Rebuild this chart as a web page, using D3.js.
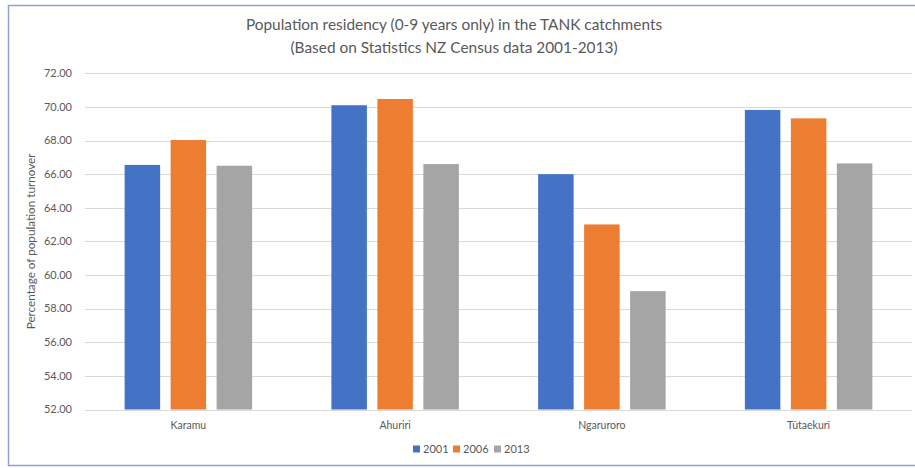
<!DOCTYPE html>
<html>
<head>
<meta charset="utf-8">
<script src="https://cdn.jsdelivr.net/npm/d3@7"></script>
<style>
  body { margin: 0; background: #fff; }
  text { font-family: Lato, "Open Sans", sans-serif; fill: #595959; }
</style>
</head>
<body>
<svg></svg>
<script>
var catchments = ["Karamu", "Ahuriri", "Ngaruroro", "Tūtaekurī"];
var years = ["2001", "2006", "2013"];
var v2001 = [66.55, 70.10, 66.00, 69.82];
var v2006 = [68.03, 70.47, 63.01, 69.32];
var v2013 = [66.50, 66.60, 59.04, 66.64];
var yTicks = [52, 54, 56, 58, 60, 62, 64, 66, 68, 70, 72];
var colors = ["#4472C4", "#ED7D31", "#A5A5A5"];

var series = [v2001, v2006, v2013];
var rows = catchments.map(function(c, i) {
  return { name: c, vals: years.map(function(yr, j) { return { year: yr, v: series[j][i] }; }) };
});

var W = 915, H = 468;
var plotL = 85, plotR = 912, plotT = 73.3, plotB = 409.5;

var svg = d3.select("svg").attr("width", W).attr("height", H);

// chart frame
svg.append("rect")
  .attr("x", 8.5).attr("y", 5.5)
  .attr("width", 920).attr("height", 460)
  .attr("fill", "none").attr("stroke", "#8EA0CF").attr("stroke-width", 1.5);

var x = d3.scaleBand().domain(catchments).range([plotL, plotR]);
var xInner = d3.scaleBand().domain(years).range([0, 127.5]).paddingInner(0.228);
var y = d3.scaleLinear().domain([52, 72]).range([plotB, plotT]);

// gridlines
svg.append("g").selectAll("line")
  .data(yTicks)
  .join("line")
  .attr("x1", plotL).attr("x2", plotR)
  .attr("y1", function(d) { return Math.round(y(d)) + 0.5; })
  .attr("y2", function(d) { return Math.round(y(d)) + 0.5; })
  .attr("stroke", "#d9d9d9").attr("stroke-width", 1);

// y tick labels
svg.append("g").selectAll("text")
  .data(yTicks)
  .join("text")
  .attr("x", 72).attr("y", function(d) { return y(d); })
  .attr("dy", "0.35em")
  .attr("text-anchor", "end")
  .attr("font-size", 11)
  .text(function(d) { return d.toFixed(2); });

// bars
var groups = svg.append("g").selectAll("g")
  .data(rows)
  .join("g")
  .attr("transform", function(d) {
    return "translate(" + (x(d.name) + (x.bandwidth() - 127.5) / 2) + ",0)";
  });

groups.selectAll("rect")
  .data(function(d) { return d.vals; })
  .join("rect")
  .attr("x", function(d) { return xInner(d.year); })
  .attr("width", xInner.bandwidth())
  .attr("y", function(d) { return y(d.v); })
  .attr("height", function(d) { return y(52) - y(d.v); })
  .attr("fill", function(d, i) { return colors[i]; });

// x labels
svg.append("g").selectAll("text")
  .data(catchments)
  .join("text")
  .attr("x", function(d) { return x(d) + x.bandwidth() / 2; })
  .attr("y", 429)
  .attr("text-anchor", "middle")
  .attr("font-size", 10.5)
  .text(function(d) { return d; });

// title
svg.append("text")
  .attr("x", 454).attr("y", 30)
  .attr("text-anchor", "middle").attr("font-size", 15.4)
  .text("Population residency (0-9 years only) in the TANK catchments");
svg.append("text")
  .attr("x", 454).attr("y", 53)
  .attr("text-anchor", "middle").attr("font-size", 15.4)
  .text("(Based on Statistics NZ Census data 2001-2013)");

// y axis title
svg.append("text")
  .attr("transform", "translate(35," + ((plotT + plotB) / 2) + ") rotate(-90)")
  .attr("text-anchor", "middle").attr("font-size", 11.7)
  .text("Percentage of population turnover");

// legend
var legX = [413, 453, 494];
var leg = svg.append("g").selectAll("g")
  .data(years)
  .join("g")
  .attr("transform", function(d, i) { return "translate(" + legX[i] + ",449)"; });
leg.append("rect")
  .attr("x", 0).attr("y", -3.5).attr("width", 7).attr("height", 7)
  .attr("fill", function(d, i) { return colors[i]; });
leg.append("text")
  .attr("x", 10).attr("y", 0).attr("dy", "0.35em")
  .attr("font-size", 11)
  .text(function(d) { return d; });
</script>
</body>
</html>
